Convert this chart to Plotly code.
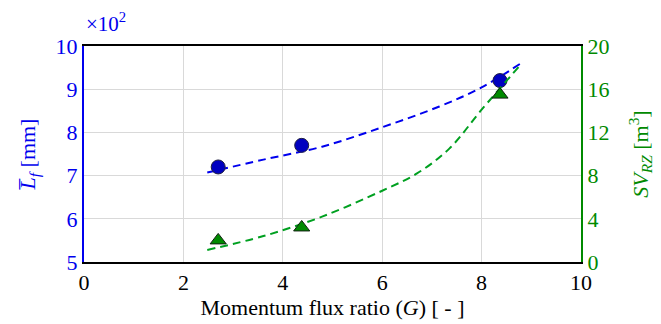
import plotly.graph_objects as go

# Measured data
G = [2.70, 4.38, 8.37]
Lf = [7.2, 7.7, 9.2]          # x10^2 mm
SV = [2.0, 3.2, 15.5]          # m^3

# Trend curves
fit_x = [2.48, 3.61, 4.79, 6.0, 7.15, 8.0, 8.79]
fit_L = [7.07, 7.37, 7.67, 8.12, 8.60, 9.04, 9.60]
fitg_x = [2.48, 3.61, 4.79, 6.0, 6.7, 7.35, 8.0, 8.79]
fit_SV = [1.12, 2.4, 4.2, 6.6, 8.2, 10.5, 14.1, 18.3]

x_ticks = [0, 2, 4, 6, 8, 10]
y_ticks = [5, 6, 7, 8, 9, 10]
y2_ticks = [0, 4, 8, 12, 16, 20]

BLUE = "#0000ee"
GREEN = "#008a00"
FONT = "Liberation Serif, Times New Roman, serif"

def f(color="black", size=22):
    return dict(family=FONT, size=size, color=color)

fig = go.Figure()
fig.add_trace(go.Scatter(x=fit_x, y=fit_L, mode="lines", line=dict(color=BLUE, width=2, dash="8px,5px", shape="spline"),
                         showlegend=False, hoverinfo="skip"))
fig.add_trace(go.Scatter(x=fitg_x, y=fit_SV, mode="lines", yaxis="y2",
                         line=dict(color="#00a020", width=2, dash="8px,5px", shape="spline"),
                         showlegend=False, hoverinfo="skip"))
fig.add_trace(go.Scatter(x=G, y=Lf, mode="markers",
                         marker=dict(symbol="circle", size=14, color="#0000c0", line=dict(color="#202040", width=1)),
                         showlegend=False))
fig.add_trace(go.Scatter(x=G, y=SV, mode="markers", yaxis="y2",
                         marker=dict(symbol="triangle-up", size=14, color="#008a00", line=dict(color="#102010", width=1)),
                         showlegend=False))

fig.update_layout(
    width=661, height=324,
    margin=dict(l=84, r=80, t=46, b=62, autoexpand=False),
    paper_bgcolor="white", plot_bgcolor="white",
    font=f(),
    xaxis=dict(range=[0, 10], tickvals=x_ticks, showgrid=True, gridcolor="#d9d9d9", gridwidth=1,
               showline=True, linecolor="black", linewidth=2, mirror=True, ticks="", zeroline=False,
               automargin=False,
               title=dict(text="Momentum flux ratio (<i>G</i>) [ - ]", font=f(), standoff=2),
               tickfont=f()),
    yaxis=dict(range=[5, 10], tickvals=y_ticks, showgrid=True, gridcolor="#d9d9d9", gridwidth=1,
               showline=True, linecolor=BLUE, linewidth=2, ticks="", zeroline=False, automargin=False,
               tickfont=f(BLUE),
               title=dict(text="<i>L\u0305</i><sub><i>f</i></sub> [mm]", font=f(BLUE), standoff=14)),
    yaxis2=dict(range=[0, 20], tickvals=y2_ticks, overlaying="y", side="right", showgrid=False,
                showline=True, linecolor=GREEN, linewidth=2, ticks="", zeroline=False, automargin=False,
                tickfont=f(GREEN),
                title=dict(text="<i>SV</i><sub><i>RZ</i></sub> [m<sup>3</sup>]", font=f(GREEN), standoff=24)),
    annotations=[dict(text="×10<sup>2</sup>", x=0, y=1.0, xref="paper", yref="paper", xanchor="left", yanchor="bottom",
                      yshift=8, showarrow=False, font=f(BLUE, 21))],
)

post = (
    "document.body.style.margin='0';"
    "var s=document.createElement('style');"
    "s.textContent='.modebar-container{display:none !important;}';"
    "document.head.appendChild(s);"
)
fig.write_html("out.html", post_script=post)
